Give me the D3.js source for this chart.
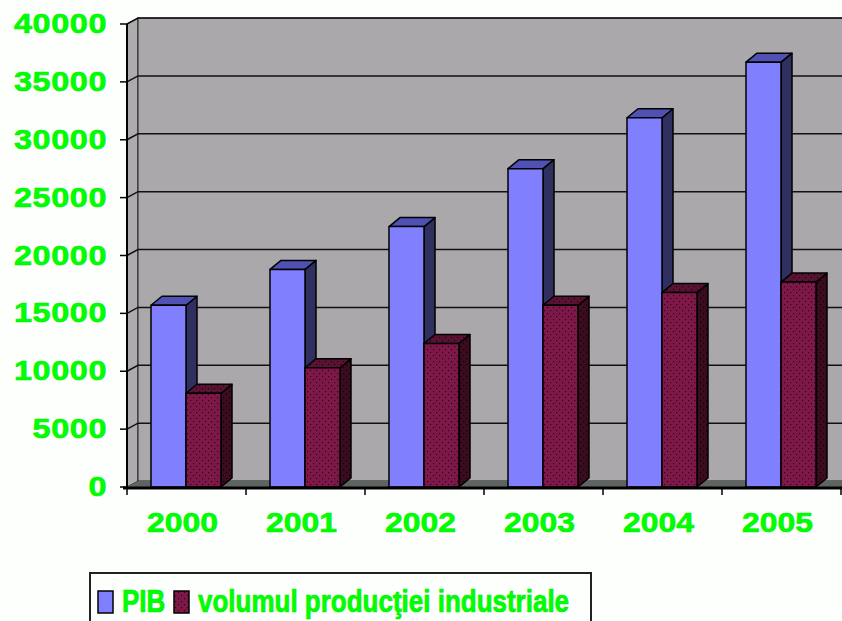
<!DOCTYPE html>
<html>
<head>
<meta charset="utf-8">
<script src="https://cdn.jsdelivr.net/npm/d3@7"></script>
<style>
  html, body { margin: 0; padding: 0; background: #fdfffd; }
  svg { display: block; }
  .lbl {
    font-family: "Liberation Sans", Arial, sans-serif;
    font-weight: bold;
    fill: #00ff00;
    stroke: #00f000;
    stroke-width: 0.6px;
  }
</style>
</head>
<body>
<div id="chart"></div>
<script>
'use strict';

// chart data
var years = ['2000', '2001', '2002', '2003', '2004', '2005'];
var pib = [15700, 18800, 22500, 27500, 31900, 36700];
var volum = [8100, 10300, 12400, 15700, 16800, 17700];
var seriesNames = ['PIB', 'volumul producţiei industriale'];
var yTicks = [0, 5000, 10000, 15000, 20000, 25000, 30000, 35000, 40000];

var width = 842,
    height = 621,
    left = 127,
    right = 841,
    // depth of walls and bars (fake 3d)
    wdx = 11, wdy = -6,
    bdx = 11, bdy = -9;

var svg = d3.select('#chart').append('svg')
  .attr('width', width)
  .attr('height', height);

var defs = svg.append('defs');

/** dotted fill like the old excel pattern */
function dots(id, bg, fg) {
  var p = defs.append('pattern')
    .attr('id', id)
    .attr('patternUnits', 'userSpaceOnUse')
    .attr('width', 6)
    .attr('height', 6);
  p.append('rect').attr('width', 6).attr('height', 6).attr('fill', bg);
  p.append('rect').attr('x', 1).attr('y', 1).attr('width', 1.2).attr('height', 1.2).attr('fill', fg);
  p.append('rect').attr('x', 4).attr('y', 4).attr('width', 1.2).attr('height', 1.2).attr('fill', fg);
}
dots('volFront', '#7e1848', '#2c0616');
dots('volSide', '#3b0b20', '#0c0206');
dots('volTop', '#5a1234', '#20050f');

var styles = [
  { front: '#8080ff', top: '#4f52b3', side: '#2f305f' },
  { front: 'url(#volFront)', top: 'url(#volTop)', side: 'url(#volSide)' }
];

var y = d3.scaleLinear().domain([0, 40000]).range([487, 24]);
var x = d3.scaleBand().domain(years).range([left, right]);
var xs = d3.scaleBand().domain([0, 1]).range([24, 94]);

var y0 = y(0), yMax = y(40000);

// side wall
svg.append('polygon')
  .attr('points', [[left, yMax], [left + wdx, yMax + wdy], [left + wdx, y0 + wdy], [left, y0]].join(' '))
  .attr('fill', '#adabae')
  .attr('stroke', '#222')
  .attr('stroke-width', 1);

// back wall
svg.append('rect')
  .attr('x', left + wdx)
  .attr('y', yMax + wdy)
  .attr('width', width - left - wdx + 2)
  .attr('height', y0 - yMax)
  .attr('fill', '#aaa8ab')
  .attr('stroke', '#222')
  .attr('stroke-width', 1);

// floor
svg.append('polygon')
  .attr('points', [[left, y0], [left + wdx, y0 + wdy], [width + 2, y0 + wdy], [width + 2, y0]].join(' '))
  .attr('fill', '#5e6460');

// gridlines over both walls
var grid = svg.append('g').attr('stroke', '#111').attr('stroke-width', 1.5).attr('fill', 'none');
yTicks.filter(function (d) { return d > 0; }).forEach(function (d) {
  var yy = y(d);
  grid.append('polyline')
    .attr('points', [[left, yy], [left + wdx, yy + wdy], [width + 2, yy + wdy]].join(' '));
});

// bars
var bars = svg.append('g')
  .attr('stroke', '#000')
  .attr('stroke-width', 1.5)
  .attr('stroke-linejoin', 'round');

years.forEach(function (yr, i) {
  [pib[i], volum[i]].forEach(function (v, s) {
    var x0 = x(yr) + xs(s),
        w = xs.bandwidth(),
        yt = y(v),
        g = bars.append('g');

    g.append('polygon')
      .attr('points', [[x0 + w, yt], [x0 + w + bdx, yt + bdy], [x0 + w + bdx, y0 + bdy], [x0 + w, y0]].join(' '))
      .attr('fill', styles[s].side);
    g.append('polygon')
      .attr('points', [[x0, yt], [x0 + bdx, yt + bdy], [x0 + w + bdx, yt + bdy], [x0 + w, yt]].join(' '))
      .attr('fill', styles[s].top);
    g.append('rect')
      .attr('x', x0)
      .attr('y', yt)
      .attr('width', w)
      .attr('height', y0 - yt)
      .attr('fill', styles[s].front);
  });
});

// y axis
var yAxis = svg.append('g').attr('stroke', '#000');
yAxis.append('line')
  .attr('x1', left).attr('x2', left)
  .attr('y1', yMax).attr('y2', y0)
  .attr('stroke-width', 2);
yTicks.forEach(function (d) {
  yAxis.append('line')
    .attr('x1', left - 7).attr('x2', left)
    .attr('y1', y(d)).attr('y2', y(d))
    .attr('stroke-width', 1.5);
});

// tick labels are drawn wide, like the stretched original
svg.append('g').selectAll('text')
  .data(yTicks)
  .join('text')
    .attr('class', 'lbl')
    .attr('transform', function (d) { return 'translate(107,' + (y(d) + 9) + ') scale(1.2,1)'; })
    .attr('text-anchor', 'end')
    .style('font-size', '27px')
    .style('letter-spacing', '0.5px')
    .text(function (d) { return d; });

// x axis baseline + ticks
svg.append('line')
  .attr('x1', left - 4).attr('x2', width + 2)
  .attr('y1', y0 + 1).attr('y2', y0 + 1)
  .attr('stroke', '#000')
  .attr('stroke-width', 3);
svg.append('g').selectAll('line')
  .data(years.concat(['end']))
  .join('line')
    .attr('x1', function (d, i) { return left + i * x.bandwidth(); })
    .attr('x2', function (d, i) { return left + i * x.bandwidth(); })
    .attr('y1', y0).attr('y2', y0 + 8)
    .attr('stroke', '#000')
    .attr('stroke-width', 1.5);

svg.append('g').selectAll('text')
  .data(years)
  .join('text')
    .attr('class', 'lbl')
    .attr('transform', function (d) { return 'translate(' + (x(d) + x.bandwidth() / 2 - 4) + ',532) scale(1.18,1)'; })
    .attr('text-anchor', 'middle')
    .style('font-size', '27px')
    .text(function (d) { return d; });

// legend
var legend = svg.append('g');
legend.append('rect')
  .attr('x', 90).attr('y', 573)
  .attr('width', 501).attr('height', 70)
  .attr('fill', '#fdfffd')
  .attr('stroke', '#222')
  .attr('stroke-width', 2);

var legendX = [[98, 122], [174, 198]];
seriesNames.forEach(function (name, s) {
  legend.append('rect')
    .attr('x', legendX[s][0]).attr('y', 591)
    .attr('width', 15).attr('height', 22)
    .attr('fill', styles[s].front)
    .attr('stroke', '#000')
    .attr('stroke-width', 1.5);
  legend.append('text')
    .attr('class', 'lbl')
    .attr('transform', 'translate(' + legendX[s][1] + ',612) scale(1,1.18)')
    .style('font-size', '26px')
    .text(name);
});
</script>
</body>
</html>
